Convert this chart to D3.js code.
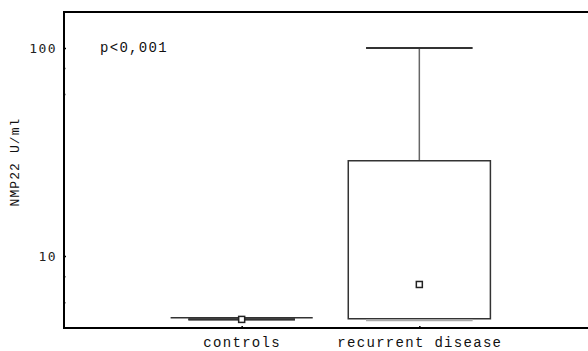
<!DOCTYPE html>
<html>
<head>
<meta charset="utf-8">
<script src="https://cdn.jsdelivr.net/npm/d3@7"></script>
<style>
body { margin: 0; background: #fff; }
svg { display: block; }
.courier { font-family: 'Courier New', Courier, 'Nimbus Mono PS', FreeMono, 'Liberation Mono', monospace; }
</style>
</head>
<body>
<script>
"use strict"
const w = 588;
const h = 351;
const plotLeft = 64, plotTop = 12, plotBottom = 328, plotRight = 597;

// data (NMP22 U/ml)
const categories = ['controls', 'recurrent disease'];
const minValues = [4.95, 4.92];
const q1Values = [5.05, 5.0];
const medianValues = [4.96, 7.3];
const q3Values = [5.05, 28.7];
const maxValues = [4.97, 100];
const yTicks = [6, 8, 10, 60, 80, 100];
const yLabels = [10, 100];
const note = 'p<0,001';

const mySvg = d3.select('body')
	.append('svg')
	.attr('width', w)
	.attr('height', h);

const yScale = d3.scaleLog()
	.domain([4.51, 148.8])
	.range([plotBottom, plotTop]);

const xScale = d3.scalePoint()
	.domain(categories)
	.range([plotLeft, plotRight])
	.padding(1);

const step = xScale.step();

// y axis
const yAxis = d3.axisLeft(yScale)
	.tickValues(yTicks)
	.tickSize(-2)
	.tickPadding(7)
	.tickFormat(d => yLabels.includes(d) ? d : '');

const gy = mySvg.append('g')
	.attr('transform', 'translate(' + plotLeft + ',0)')
	.call(yAxis);
gy.select('.domain').remove();
gy.selectAll('.tick line')
	.attr('stroke', d => yLabels.includes(d) ? '#000' : '#999')
	.attr('stroke-width', 1.5);
gy.selectAll('.tick text')
	.style('font-family', 'DejaVu Sans Mono')
	.style('font-size', '13px')
	.style('letter-spacing', '1.4px')
	.attr('fill', '#222');

// x axis
const xAxis = d3.axisBottom(xScale)
	.tickSize(-2)
	.tickPadding(9);

const gx = mySvg.append('g')
	.attr('transform', 'translate(0,' + plotBottom + ')')
	.call(xAxis);
gx.select('.domain').remove();
gx.selectAll('.tick line').attr('stroke-width', 1.5);
gx.selectAll('.tick text')
	.attr('class', 'courier')
	.style('font-size', '14px')
	.style('letter-spacing', '1.3px')
	.attr('font-family', null)
	.attr('fill', '#111');
gx.attr('font-family', null);
gy.attr('font-family', null);

// frame
mySvg.append('path')
	.attr('d', 'M' + plotRight + ',' + plotTop + 'H' + plotLeft + 'V' + plotBottom + 'H' + plotRight)
	.attr('fill', 'none')
	.attr('stroke', '#000')
	.attr('stroke-width', 2);

// y title
mySvg.append('text')
	.attr('class', 'courier')
	.attr('transform', 'translate(19,162) rotate(-90)')
	.attr('text-anchor', 'middle')
	.style('font-size', '13px')
	.style('letter-spacing', '1.1px')
	.attr('fill', '#111')
	.text('NMP22 U/ml');

mySvg.append('text')
	.attr('class', 'courier')
	.attr('x', 100)
	.attr('y', 52)
	.style('font-size', '14px')
	.style('letter-spacing', '1.3px')
	.attr('fill', '#111')
	.text(note);

// boxes
const boxes = categories.map((c, i) => ({
	c: c, min: minValues[i], q1: q1Values[i], med: medianValues[i], q3: q3Values[i], max: maxValues[i]
}));

const g = mySvg.selectAll('.box')
	.data(boxes)
	.enter()
	.append('g')
	.attr('class', 'box');

const boxW = step * 0.8;
const capW = step * 0.6;

g.append('line')
	.attr('x1', d => xScale(d.c))
	.attr('x2', d => xScale(d.c))
	.attr('y1', d => yScale(d.max))
	.attr('y2', d => yScale(d.q3))
	.attr('stroke', '#666')
	.attr('stroke-width', 1.5);

// box drawn as path so a collapsed box still shows
g.append('path')
	.attr('d', d => {
		const x0 = xScale(d.c) - boxW / 2, x1 = xScale(d.c) + boxW / 2;
		const y0 = yScale(d.q3), y1 = yScale(d.q1);
		return 'M' + x0 + ',' + y0 + 'H' + x1 + 'V' + y1 + 'H' + x0 + 'Z';
	})
	.attr('fill', 'none')
	.attr('stroke', '#333')
	.attr('stroke-width', 1.5);

g.append('line')
	.attr('x1', d => xScale(d.c) - capW / 2)
	.attr('x2', d => xScale(d.c) + capW / 2)
	.attr('y1', d => yScale(d.max))
	.attr('y2', d => yScale(d.max))
	.attr('stroke', '#333')
	.attr('stroke-width', 2);

g.append('line')
	.attr('x1', d => xScale(d.c) - capW / 2)
	.attr('x2', d => xScale(d.c) + capW / 2)
	.attr('y1', d => yScale(d.min))
	.attr('y2', d => yScale(d.min))
	.attr('stroke', (d, i) => i === 0 ? '#333' : '#aaa')
	.attr('stroke-width', 2);

g.append('rect')
	.attr('x', d => xScale(d.c) - 3)
	.attr('y', d => yScale(d.med) - 3)
	.attr('width', 6)
	.attr('height', 6)
	.attr('fill', '#fff')
	.attr('stroke', '#222')
	.attr('stroke-width', 1.5);
</script>
</body>
</html>
